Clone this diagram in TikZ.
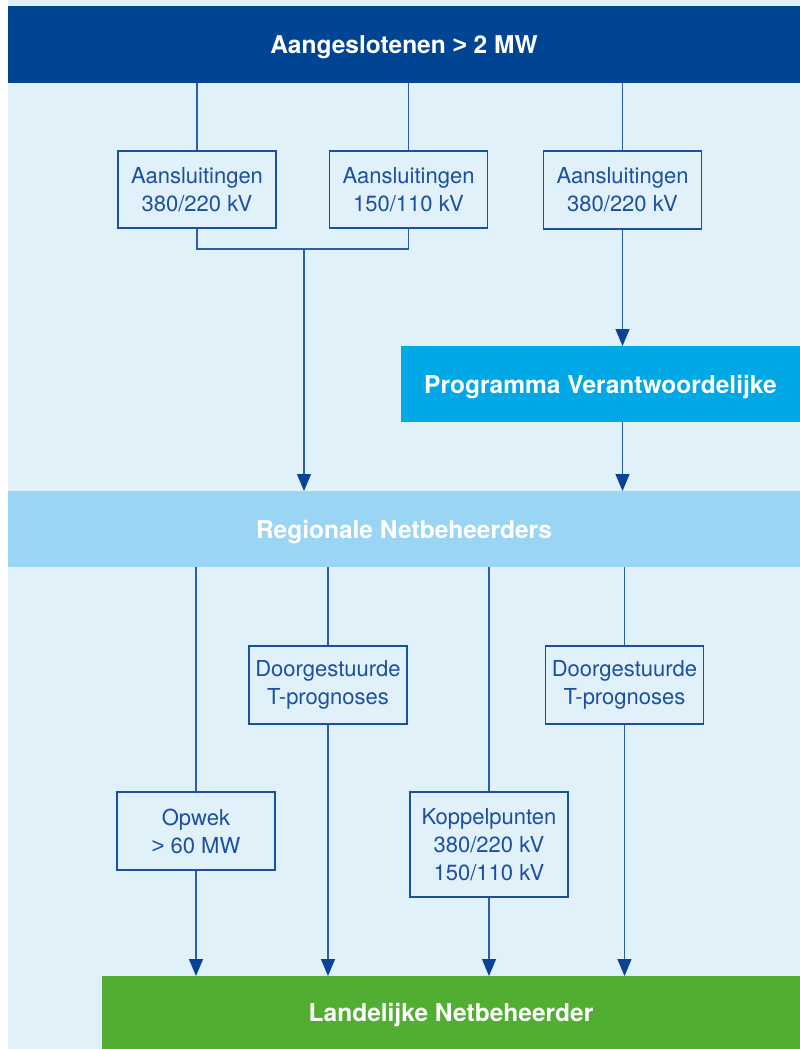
\documentclass[tikz,border=0pt]{standalone}
\usepackage{fontspec}
\setmainfont{TeX Gyre Heros}
\newfontfamily\gtfont{Liberation Sans}
\newcommand{\gtsign}{{\gtfont >}}
\usetikzlibrary{arrows.meta,positioning,calc}
\definecolor{paleblue}{HTML}{E1F1FA}
\definecolor{darkbar}{HTML}{004494}
\definecolor{cyanbar}{HTML}{00A9E6}
\definecolor{lightbar}{HTML}{9AD6F4}
\definecolor{greenbar}{HTML}{52AE32}
\definecolor{wireblue}{HTML}{2A5FA8}
\definecolor{tipblue}{HTML}{0A4394}
\definecolor{textblue}{HTML}{1C4F9E}
\tikzset{
	bar/.style={minimum width=#1,minimum height=77pt,inner sep=0pt,outer sep=0pt,
		text depth=0pt,text=white,font=\fontsize{24.5}{28}\selectfont\bfseries},
	infobox/.style={draw=textblue,fill=paleblue,line width=1.2pt,text=textblue,
		minimum width=158pt,minimum height=77pt,inner sep=0pt,align=center,
		font=\fontsize{22}{28}\selectfont},
	wire/.style={wireblue,line width=1.3pt},
	arr/.style={wire,-{Triangle[width=14pt,length=17pt,color=tipblue]}}
}

\begin{document}
\begin{tikzpicture}[x=1pt,y=-1pt]
      \useasboundingbox (0,0) rectangle (800,1049);
      \fill[paleblue] (8,0) rectangle (800,1049);
      % bars
      \node [bar=792pt,fill=darkbar] (top) at (404,44.5) {Aangeslotenen \gtsign{} 2 MW};
      \node [bar=399pt,minimum height=76pt,fill=cyanbar] (pv) at (600.5,384) {Programma Verantwoordelijke};
      \node [bar=792pt,minimum height=76pt,fill=lightbar] (rnb) at (404,529) {Regionale Netbeheerders};
      \node [bar=698pt,minimum height=73pt,fill=greenbar] (lnb) at (451,1012.5) {Landelijke Netbeheerder};
      % upper boxes
      \node [infobox] (a1) at (197,189.5) {Aansluitingen\\380/220 kV};
      \node [infobox] (a2) at (408.5,189.5) {Aansluitingen\\150/110 kV};
      \node [infobox,minimum height=78pt] (a3) at (622.5,190) {Aansluitingen\\380/220 kV};
      % lower boxes
      \node [infobox,minimum height=78pt] (d1) at (328,685) {Doorgestuurde\\T-prognoses};
      \node [infobox,minimum height=78pt] (d2) at (624.5,685) {Doorgestuurde\\T-prognoses};
      \node [infobox,minimum height=78pt] (opw) at (196,831) {Opwek\\\gtsign{} 60 MW};
      \node [infobox,minimum height=105pt] (kop) at (489,844.5) {Koppelpunten\\380/220 kV\\150/110 kV};
      \coordinate (join) at (304,249);
      \draw [wire] (a1.north |- top.south) -- (a1.north);
      \draw [wire] (a2.north |- top.south) -- (a2.north);
      \draw [wire] (a3.north |- top.south) -- (a3.north);
      \draw [wire] (a1.south) |- (join) -| (a2.south);
      \draw [arr] (join) -- (join |- rnb.north);
      \draw [arr] (a3.south) -- (a3.south |- pv.north);
      \draw [arr] (a3.south |- pv.south) -- (a3.south |- rnb.north);
      \foreach \b in {opw,d1,kop,d2} {
        \draw [wire] (\b.north |- rnb.south) -- (\b.north);
        \draw [arr] (\b.south) -- (\b.south |- lnb.north);
      }
   \end{tikzpicture}
\end{document}
